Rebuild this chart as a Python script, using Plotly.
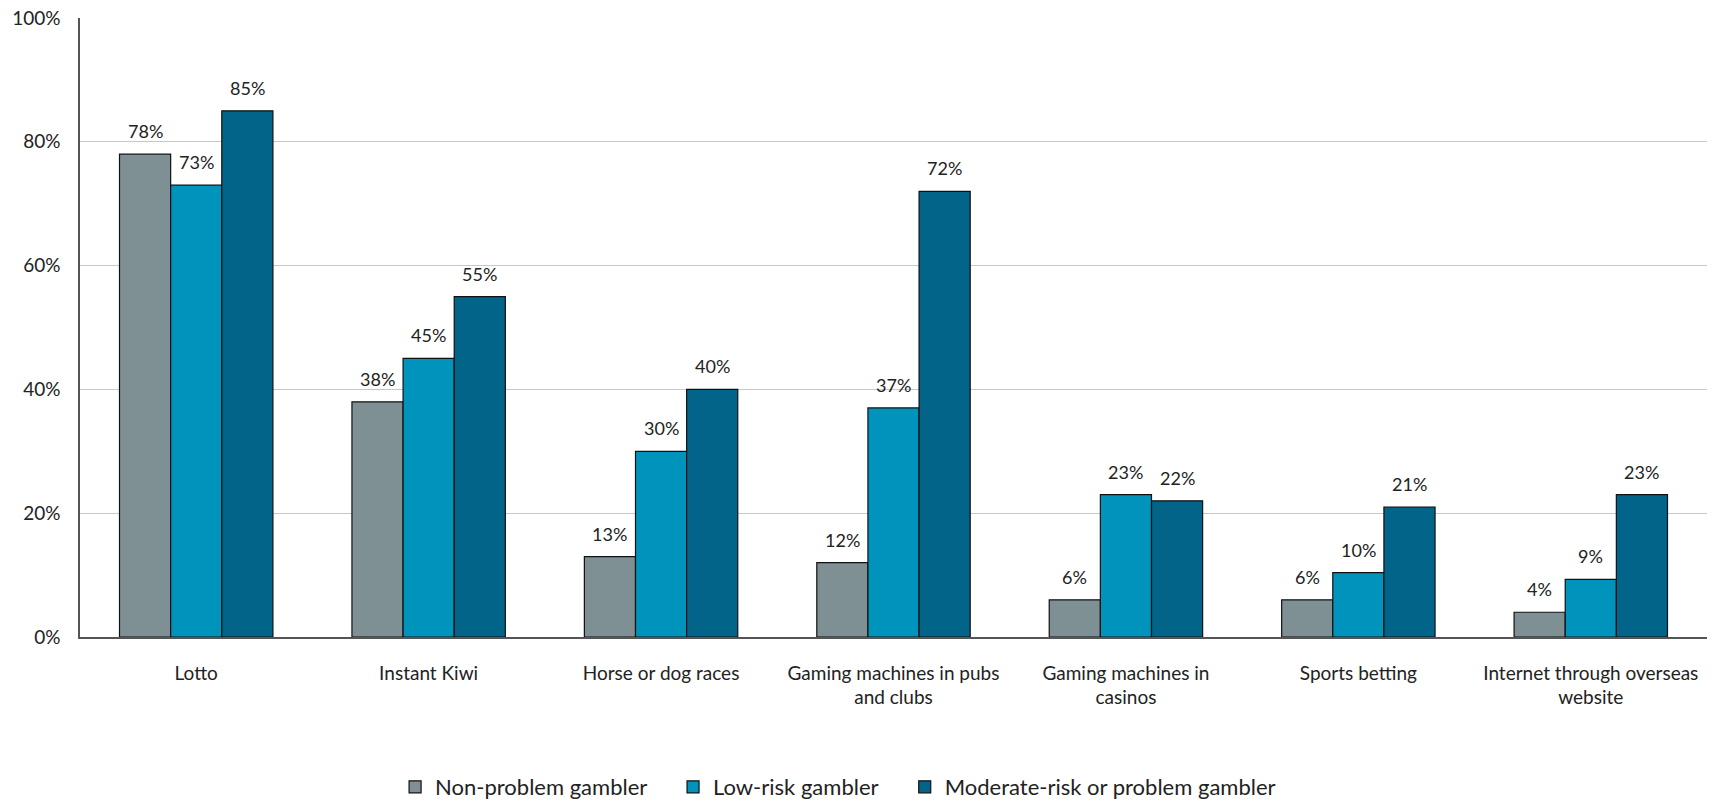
import plotly.graph_objects as go

categories = ["Lotto", "Instant Kiwi", "Horse or dog races",
              "Gaming machines in pubs<br>and clubs", "Gaming machines in<br>casinos",
              "Sports betting", "Internet through overseas<br>website"]
series_names = ["Non-problem gambler", "Low-risk gambler", "Moderate-risk or problem gambler"]
non_problem = [78, 38, 13, 12, 6, 6, 4]
low_risk = [73, 45, 30, 37, 23, 10.4, 9.3]
moderate = [85, 55, 40, 72, 22, 21, 23]
non_problem_labels = ["78%", "38%", "13%", "12%", "6%", "6%", "4%"]
low_risk_labels = ["73%", "45%", "30%", "37%", "23%", "10%", "9%"]
moderate_labels = ["85%", "55%", "40%", "72%", "22%", "21%", "23%"]
colors = ["#7F9094", "#0094BC", "#036489"]
tick_vals = [0, 20, 40, 60, 80, 100]
tick_text = ["0%", "20%", "40%", "60%", "80%", "100%"]

FONT = "Lato"
W, H = 1720, 805
ML, MR, MT, MB = 80, 13, 18, 168
BARGAP = 0.34
legend_ids = ["legend", "legend2", "legend3"]
legend_x = [0.2297, 0.3913, 0.526]

plot_w = W - ML - MR
bar_px = plot_w / len(categories) * (1 - BARGAP) / 3

fig = go.Figure()
annotations = []
for k, (name, vals, labs, col, lid) in enumerate(zip(
        series_names, [non_problem, low_risk, moderate],
        [non_problem_labels, low_risk_labels, moderate_labels], colors, legend_ids)):
    fig.add_trace(go.Bar(
        x=categories, y=vals, name=name,
        marker=dict(color=col, line=dict(color="#111111", width=1.2)),
        legend=lid,
    ))
    for c, v, t in zip(categories, vals, labs):
        annotations.append(dict(
            x=c, y=v, xref="x", yref="y", text=t, showarrow=False,
            yanchor="bottom", xanchor="center", yshift=10, xshift=(k - 1) * bar_px,
            font=dict(family=FONT, size=18, color="#222222"),
        ))

legend_common = dict(orientation="h", xref="container", yref="container",
                     y=1 - 787 / 805, yanchor="middle", xanchor="left",
                     font=dict(family=FONT, size=22, color="#222222"),
                     itemwidth=30, bgcolor="rgba(0,0,0,0)")
fig.update_layout(
    width=W, height=H,
    margin=dict(l=ML, r=MR, t=MT, b=MB, autoexpand=False),
    plot_bgcolor="white", paper_bgcolor="white",
    barmode="group", bargap=BARGAP, bargroupgap=0,
    font=dict(family=FONT, size=19, color="#222222"),
    showlegend=True,
    legend=dict(x=legend_x[0], **legend_common),
    legend2=dict(x=legend_x[1], **legend_common),
    legend3=dict(x=legend_x[2], **legend_common),
    annotations=annotations,
)
fig.update_yaxes(range=[0, 100], tickvals=tick_vals, ticktext=tick_text,
                 showgrid=True, gridcolor="#C8C8C8", gridwidth=1.2,
                 showline=True, linecolor="#555555", linewidth=1.5,
                 ticks="", ticklabelstandoff=14, zeroline=False, automargin=False,
                 tickfont=dict(family=FONT, size=19, color="#222222"))
fig.update_xaxes(showline=True, linecolor="#555555", linewidth=1.5, ticks="",
                 tickfont=dict(family=FONT, size=19, color="#222222"),
                 ticklabelstandoff=18, automargin=False)
fig.write_html("out.html")
